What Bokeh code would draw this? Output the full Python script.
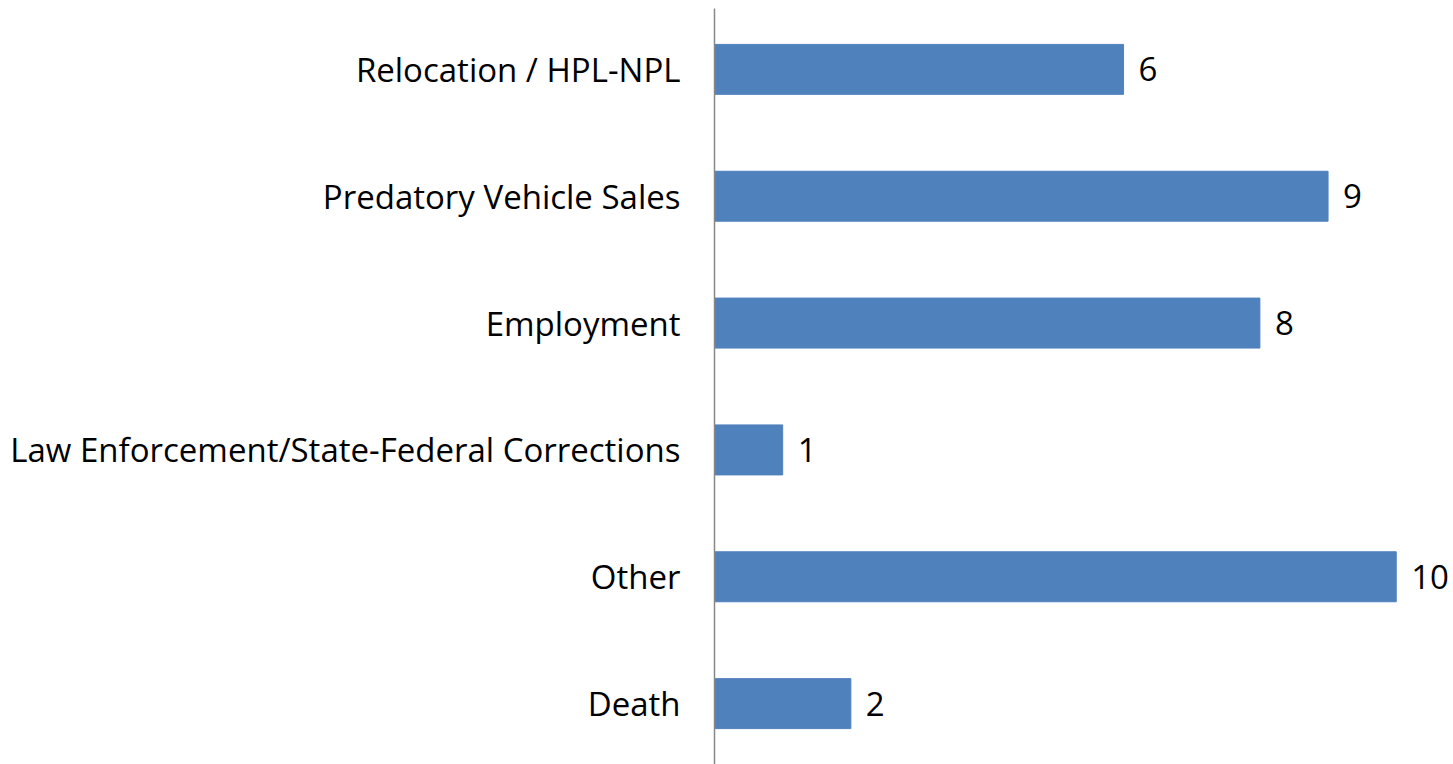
from bokeh.plotting import figure
from bokeh.models import ColumnDataSource, FactorRange, Range1d
from bokeh.embed import file_html
from bokeh.resources import INLINE
from bokeh.core.properties import value

categories = ["Relocation / HPL-NPL", "Predatory Vehicle Sales", "Employment",
              "Law Enforcement/State-Federal Corrections", "Other", "Death"]
counts = [6, 9, 8, 1, 10, 2]

FONT = "Open Sans"
FS = "33px"

src = ColumnDataSource(dict(cat=categories, val=counts, lab=[str(v) for v in counts]))

yr = FactorRange(factors=list(reversed(categories)), range_padding=-0.02,
                 range_padding_units="absolute")
p = figure(width=1453, height=764, y_range=yr, x_range=Range1d(0, 10.84),
           output_backend="svg", toolbar_location=None,
           min_border_left=714, min_border_right=0, min_border_top=8, min_border_bottom=0)

p.hbar(y="cat", right="val", left=0, height=0.394, source=src,
       fill_color="#4F81BD", line_color="#4F81BD")
p.text(x="val", y="cat", text="lab", source=src, x_offset=15,
       text_baseline="middle", text_align="left",
       text_font=value(FONT), text_font_size=FS, text_color="black")

p.xaxis.visible = False
p.xgrid.visible = False
p.ygrid.visible = False
p.outline_line_color = None
p.yaxis.axis_line_color = "#888888"
p.yaxis.axis_line_width = 1.5
p.yaxis.major_tick_line_color = None
p.yaxis.minor_tick_line_color = None
p.yaxis.major_tick_out = 0
p.yaxis.major_tick_in = 0
p.yaxis.major_label_standoff = 34
p.yaxis.major_label_text_font = FONT
p.yaxis.major_label_text_font_size = FS
p.yaxis.major_label_text_color = "black"

open("out.html", "w").write(file_html(p, INLINE))
